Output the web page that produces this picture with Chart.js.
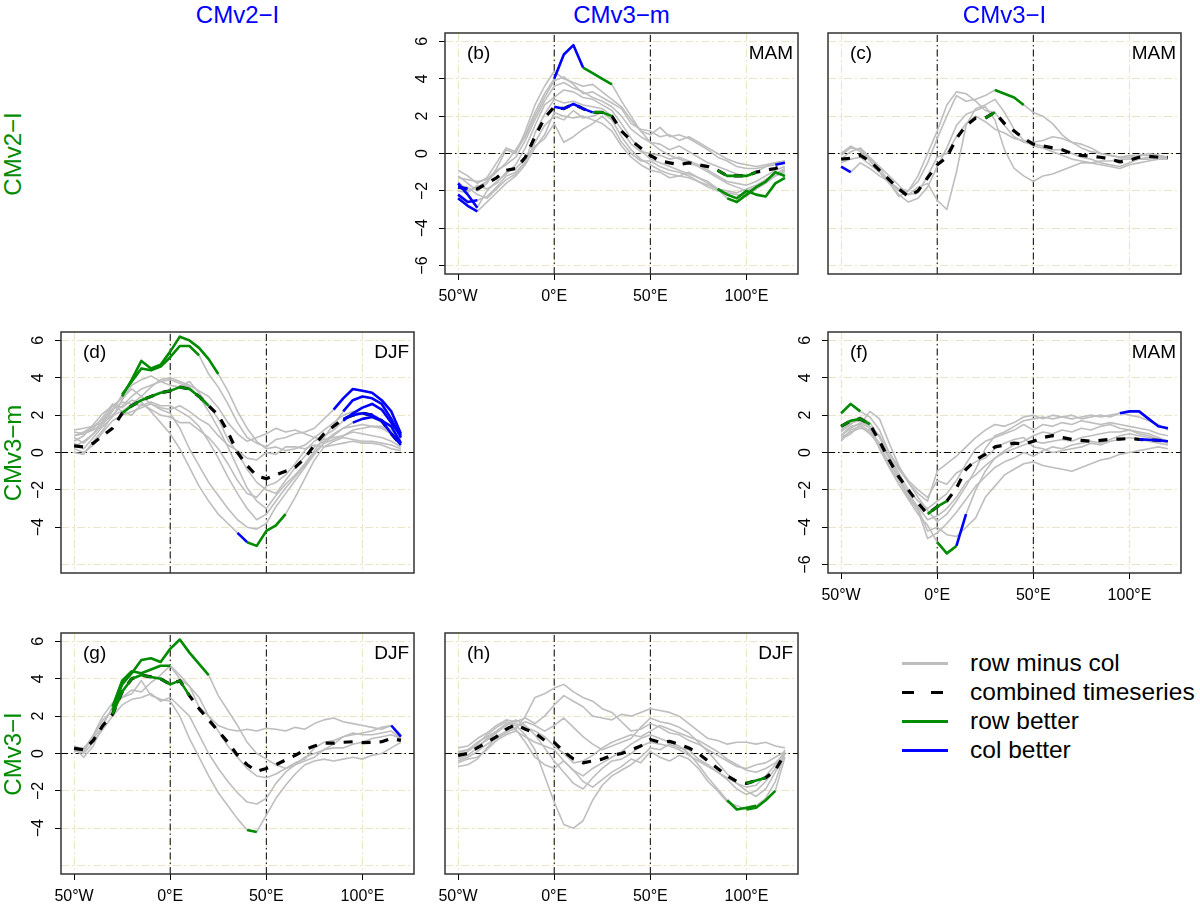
<!DOCTYPE html>
<html>
<head>
<meta charset="utf-8">
<script src="https://cdn.jsdelivr.net/npm/chart.js@4.4.1/dist/chart.umd.min.js"></script>
<style>
  body { margin: 0; width: 1200px; height: 906px; background: #fff; position: relative; overflow: hidden;
         font-family: 'Liberation Sans', Arial, Helvetica, sans-serif; }
  canvas { position: absolute; }
  .colhead { position: absolute; top: 1px; color: #0000ff; font-size: 24px; line-height: 28px; transform: translateX(-50%); white-space: nowrap; }
  .rowhead { position: absolute; left: 13px; color: #008b00; font-size: 24px; line-height: 28px; white-space: nowrap;
             transform: translate(-50%, -50%) rotate(-90deg); }
  .lgline { position: absolute; left: 902px; width: 46px; height: 3px; }
  .lgtext { position: absolute; left: 970px; font-size: 24.5px; line-height: 28px; color: #000; white-space: nowrap; }
</style>
</head>
<body>
<script>
// longitude of every sample (degrees, negative = west)
const lon = [-50, -45, -40, -35, -30, -25, -20, -15, -10, -5, 0, 5, 10, 15, 20, 25, 30, 35,
             40, 45, 50, 55, 60, 65, 70, 75, 80, 85, 90, 95, 100, 105, 110, 115, 120];
const xTicks = [-50, 0, 50, 100];
const xTickLabels = ['50°W', '0°E', '50°E', '100°E'];
const yTicks = [-6, -4, -2, 0, 2, 4, 6];
const refLon = [0, 50];
const refLat = [0];
const xLim = [-56.8, 126.8];
const yLim = [-6.45, 6.45];

const colHeads = ['CMv2\u2212I', 'CMv3\u2212m', 'CMv3\u2212I'];
const rowHeads = ['CMv2\u2212I', 'CMv3\u2212m', 'CMv3\u2212I'];

// (b) CMv2-I minus CMv3-m, MAM
const bCombined = [-1.8,-1.9,-1.9,-1.6,-1.3,-0.9,-0.8,-0.2,0.9,1.9, 2.5,2.4,2.65,2.4,2.2,2.2,2.0,1.2,0.7,0.3, -0.1,-0.4,-0.5,-0.6,-0.5,-0.6,-0.7,-0.9,-1.2,-1.2, -1.2,-1.0,-0.9,-0.8,-0.6];
const bGrey = [
  [-1.5,-2.0,-1.8,-1.5,-1.0,-0.5,0.2,1.0,2.2,3.2, 4.0,5.3,5.8,4.6,4.3,4.0,3.7,2.8,2.0,1.2, 0.6,0.2,-0.1,-0.3,-0.5,-0.7,-1.0,-1.3,-1.6,-1.8, -2.0,-1.8,-1.4,-1.2,-1.0],
  [-1.2,-1.6,-2.0,-1.6,-0.8,0.2,0.0,1.2,2.6,3.6, 4.4,4.0,3.8,3.6,3.7,3.3,2.9,2.5,1.8,1.2, 1.0,1.4,0.9,1.0,0.8,0.5,0.2,-0.2,-0.4,-0.7, -0.8,-0.8,-0.7,-0.5,-0.4],
  [-2.2,-2.6,-2.5,-2.3,-1.8,-1.2,-1.0,-0.5,0.6,1.5, 2.0,1.8,2.3,1.9,2.0,2.2,1.8,0.9,0.2,-0.3, -0.6,-0.9,-1.1,-1.2,-1.0,-1.3,-1.6,-1.9,-2.2,-2.4, -2.0,-2.2,-2.3,-1.6,-1.3],
  [-1.6,-2.2,-2.9,-2.0,-1.5,-1.1,-0.6,0.3,1.5,2.6, 3.0,3.4,3.3,3.0,2.9,2.6,2.3,1.6,0.8,0.2, -0.3,-0.5,-0.7,-0.9,-1.1,-1.3,-1.5,-1.9,-2.4,-2.6, -2.2,-1.8,-1.5,-1.0,-1.2],
  [-2.0,-2.1,-1.7,-1.9,-1.6,-1.0,-0.8,-0.3,0.4,0.8, 1.6,0.6,0.9,1.3,1.6,2.0,1.5,0.6,0.0,-0.4, -0.4,-0.7,-0.9,-1.0,-1.2,-1.5,-1.8,-2.0,-2.1,-2.2, -2.3,-1.9,-1.6,-1.2,-0.9],
  [-1.3,-1.4,-1.5,-1.4,-0.9,-0.6,-0.2,0.7,1.8,2.8, 3.6,3.8,3.5,3.3,3.0,2.8,2.5,2.0,1.3,0.9, 0.6,0.5,0.2,0.4,0.1,-0.2,-0.5,-0.7,-0.9,-1.1, -1.2,-1.0,-0.7,-0.6,-0.5],
  [-1.8,-1.8,-2.2,-2.4,-1.9,-1.4,-1.1,-0.4,1.1,2.1, 2.9,2.7,2.8,2.6,2.5,2.4,2.0,1.3,0.5,0.1, 0.0,-0.1,-0.3,-0.2,-0.4,-0.6,-0.9,-1.2,-1.5,-1.6, -1.7,-1.5,-1.2,-0.9,-0.7],
  [-2.4,-2.8,-3.1,-2.6,-2.1,-1.6,-1.2,-0.6,0.3,1.0, 2.2,2.0,1.9,2.0,1.8,1.6,1.2,0.4,-0.2,-0.6, -0.9,-1.0,-1.3,-1.2,-1.3,-1.5,-1.7,-1.9,-2.0,-2.1, -1.9,-1.7,-1.4,-1.1,-0.8],
  [-0.9,-1.2,-1.6,-1.3,-0.5,0.3,0.1,0.9,2.0,3.0, 3.9,4.1,3.7,3.2,3.3,3.0,2.7,2.4,1.6,1.3, 1.2,0.9,1.0,0.7,0.9,0.6,0.3,0.0,-0.3,-0.5, -0.6,-0.7,-0.6,-0.5,-0.4]
];
// [series ('c' = combined, else grey index), from lon, to lon]
const bRowBetter = [[0, 15, 30], ['c', 20, 30], [2, 85, 120], [3, 90, 120], ['c', 85, 105]];
const bColBetter = [[0, 0, 15], ['c', 0, 20], [2, -50, -40], [3, -50, -40], [7, -50, -40], ['c', -50, -45], [5, 115, 120]];

// (c) CMv2-I minus CMv3-I, MAM
const cCombined = [-0.3,-0.25,-0.1,-0.4,-0.9,-1.4,-1.9,-2.3,-2.0,-1.3, -0.6,-0.2,0.8,1.5,1.9,1.9,2.2,1.6,1.2,0.8, 0.5,0.4,0.3,0.2,0.0,-0.1,-0.15,-0.2,-0.3,-0.45, -0.35,-0.2,-0.15,-0.2,-0.2];
const cGrey = [
  [-0.1,0.3,0.2,-0.3,-0.8,-1.5,-1.9,-2.0,-1.5,-0.5, 0.8,2.0,3.1,2.8,2.9,3.1,3.4,3.2,3.0,2.6, 2.2,2.0,1.6,1.0,0.6,0.3,0.1,0.0,-0.1,-0.2, -0.2,-0.1,-0.1,-0.1,-0.2],
  [-0.5,-0.3,-0.2,-0.6,-1.0,-1.6,-2.2,-2.6,-2.4,-1.8, -0.7,0.3,1.5,2.1,2.3,2.5,1.8,0.2,-0.8,-1.2, -1.5,-1.2,-1.1,-0.9,-0.7,-0.5,-0.5,-0.4,-0.4,-0.3, -0.3,-0.3,-0.3,-0.2,-0.2],
  [-0.7,-1.0,-0.5,-0.8,-1.2,-1.5,-2.0,-2.2,-1.8,-1.6, -2.5,-3.0,-1.0,1.5,2.4,2.6,2.9,2.2,1.3,0.7, 0.4,0.3,0.1,-0.1,-0.3,-0.4,-0.5,-0.6,-0.7,-0.8, -0.6,-0.5,-0.4,-0.3,-0.3],
  [0.0,0.4,0.1,-0.4,-1.0,-1.5,-2.3,-2.0,-1.2,0.0, 1.2,2.6,3.3,3.2,2.8,2.3,2.2,1.5,0.9,0.6, 0.5,0.4,0.2,0.2,0.0,-0.2,-0.3,-0.5,-0.6,-0.7, -0.5,-0.3,-0.2,-0.2,-0.3],
  [-0.3,0.1,0.3,-0.2,-0.7,-1.2,-1.7,-2.2,-2.1,-1.2, -0.2,0.0,0.9,1.6,2.0,1.7,1.3,1.1,0.8,0.7, 0.6,0.7,0.9,0.8,0.6,0.5,0.3,0.0,-0.1,-0.2, -0.1,-0.1,0.0,-0.1,-0.2]
];
const cRowBetter = [[0, 30, 45], ['c', 25, 30]];
const cColBetter = [[2, -50, -45]];

// (d) CMv3-m minus CMv2-I, DJF
const dCombined = [0.35,0.3,0.5,0.9,1.3,2.1,2.5,2.8,3.0,3.2, 3.3,3.5,3.4,3.0,2.5,2.0,1.1,0.0,-0.7,-1.25, -1.4,-1.2,-1.0,-0.8,-0.3,0.4,1.0,1.4,1.8,2.0, 2.1,2.0,1.7,1.0,0.4];
const dGrey = [
  [0.9,1.0,1.2,1.6,2.3,3.0,3.9,4.9,4.5,4.7, 5.4,6.2,6.0,5.6,5.0,4.2,3.3,2.2,1.3,0.6, 0.2,0.3,0.1,0.2,0.4,0.8,1.2,1.6,2.0,2.2, 2.1,1.9,1.6,1.2,0.6],
  [0.3,0.6,1.0,1.5,2.2,3.1,3.8,4.5,4.4,4.6, 5.1,5.7,5.7,5.2,4.2,3.5,2.6,1.6,0.8,0.5, 0.3,0.7,0.8,1.0,1.1,1.3,1.8,2.3,2.9,3.4, 3.3,3.2,2.8,2.2,1.0],
  [1.1,1.0,1.3,1.9,2.6,2.4,2.8,2.7,2.2,1.6, 1.0,0.2,-0.8,-1.8,-2.6,-3.3,-3.8,-4.3,-4.8,-5.0, -4.2,-3.9,-3.3,-2.4,-1.4,-0.4,0.3,0.6,0.8,0.7, 0.6,0.6,0.5,0.4,0.2],
  [0.8,0.5,1.0,1.7,2.5,2.9,3.4,3.0,2.6,2.3, 2.1,1.3,0.2,-0.7,-1.6,-2.3,-3.0,-3.6,-4.0,-4.1, -3.8,-2.9,-2.2,-1.5,-0.8,-0.1,0.5,0.9,1.3,1.4, 1.5,1.4,1.3,1.0,0.6],
  [0.0,-0.1,0.6,1.2,2.0,2.5,3.0,3.4,3.6,3.8, 3.9,3.7,3.5,3.0,2.2,1.3,0.3,-0.8,-1.9,-2.6, -3.0,-2.3,-1.7,-1.2,-0.6,0.1,0.8,1.5,2.2,2.8, 3.0,2.9,2.6,1.8,0.8],
  [1.2,1.3,1.4,1.8,2.3,2.7,2.6,2.5,2.7,2.5, 2.5,2.2,1.9,1.4,0.6,-0.3,-1.3,-2.2,-3.0,-3.6, -3.3,-2.6,-1.9,-1.3,-0.7,0.0,0.5,0.7,0.9,1.1, 1.0,0.9,0.8,0.6,0.3],
  [0.9,1.1,1.4,1.6,2.0,2.2,2.6,3.0,3.5,3.9, 4.0,3.8,3.6,3.3,3.0,2.4,1.6,1.0,0.6,0.8, 1.0,1.3,1.1,1.2,1.0,0.8,0.7,0.8,0.9,1.2, 1.3,1.4,1.4,1.1,0.7],
  [0.6,0.9,1.5,2.1,2.5,2.2,2.0,2.6,2.3,2.0, 1.9,1.6,1.6,1.2,0.8,0.2,-0.6,-1.5,-2.2,-2.4, -1.8,-1.6,-1.2,-0.6,0.1,0.6,0.9,1.2,1.7,2.1, 2.4,2.6,2.3,1.6,0.9],
  [0.2,0.0,0.4,1.1,1.7,2.0,2.2,2.4,2.6,2.4, 2.3,2.5,2.2,1.8,1.5,0.9,0.4,0.1,-0.3,-0.4, 0.0,-0.1,0.3,0.3,0.2,0.4,0.3,0.4,0.5,0.6, 0.5,0.5,0.4,0.2,0.1],
  [0.5,0.2,0.8,1.4,1.9,2.8,3.6,3.9,4.1,3.8, 3.6,3.5,3.8,3.2,2.5,1.8,0.7,0.0,-0.9,-1.6, -2.0,-2.2,-1.5,-0.8,-0.2,0.3,0.6,1.0,1.3,1.6, 1.8,1.9,1.7,1.4,0.5]
];
const dRowBetter = [[0, -25, 25], [1, -25, 15], ['c', -25, 20], [2, 40, 60]];
const dColBetter = [[2, 35, 40], [1, 85, 120], [4, 90, 120], [7, 90, 120], [9, 95, 120], ['c', 90, 120]];

// (f) CMv3-m minus CMv3-I, MAM
const fCombined = [1.4,1.7,1.8,1.5,0.6,-0.4,-1.3,-2.0,-2.7,-3.3, -2.9,-2.6,-1.9,-0.9,-0.4,-0.1,0.3,0.4,0.5,0.45, 0.6,0.8,0.9,0.8,0.7,0.65,0.6,0.65,0.7,0.72, 0.75,0.7,0.68,0.65,0.6];
const fGrey = [
  [2.1,2.6,2.2,1.9,1.2,0.0,-0.9,-1.6,-2.2,-2.6, -1.0,-0.6,-0.2,0.3,0.8,1.2,1.5,1.4,1.6,1.9, 2.0,1.8,2.0,1.9,1.8,1.9,2.0,1.9,2.0,2.1, 2.0,1.9,1.7,1.5,1.2],
  [0.9,1.3,1.6,1.3,0.2,-0.8,-1.7,-2.5,-3.3,-3.9, -4.8,-5.4,-5.0,-3.3,-2.0,-1.0,-0.3,0.0,0.2,0.4, 0.6,0.5,0.6,0.7,0.6,0.8,0.9,1.0,1.1,1.1, 1.2,1.1,1.0,0.8,0.6],
  [0.7,1.0,1.5,2.2,1.8,0.5,-0.7,-1.6,-2.4,-3.1, -3.7,-3.3,-2.6,-1.8,-0.9,0.2,0.9,1.1,1.4,1.7, 1.8,1.9,1.8,1.9,2.0,1.8,1.9,2.0,1.9,2.1, 2.2,2.2,1.8,1.4,1.3],
  [0.6,1.2,1.4,1.0,0.4,-0.7,-1.5,-2.3,-3.0,-4.2, -4.0,-4.4,-4.5,-4.0,-3.5,-2.4,-1.8,-1.2,-0.9,-0.6, -0.5,-0.7,-0.8,-0.9,-1.0,-0.8,-0.6,-0.4,-0.3,-0.1, 0.0,0.1,0.2,0.3,0.2],
  [1.1,1.5,1.9,1.6,0.8,-0.2,-1.1,-2.0,-2.6,-3.0, -2.6,-2.2,-1.5,-0.6,0.2,0.6,0.8,1.0,1.2,1.5, 1.2,1.5,1.4,1.6,1.5,1.7,1.6,1.5,1.6,1.5, 1.4,1.3,1.2,1.0,0.9],
  [0.8,1.1,1.3,1.2,0.5,-0.3,-1.3,-2.2,-2.9,-3.6, -3.4,-3.0,-2.4,-1.6,-1.2,-0.7,-0.3,0.1,0.4,0.6, 0.9,1.1,1.0,1.2,1.1,1.3,1.2,1.4,1.5,1.3, 1.2,1.0,0.9,0.7,0.5],
  [1.2,1.6,1.7,1.4,0.9,0.0,-0.8,-1.5,-2.0,-2.4, -1.5,-1.7,-1.1,-0.8,-0.5,-0.3,0.2,0.5,0.7,0.8, 0.3,0.2,0.0,0.1,0.2,0.3,0.5,0.4,0.6,0.7, 0.8,0.7,0.6,0.5,0.4],
  [0.9,1.4,1.5,1.1,0.3,-0.5,-1.4,-2.4,-3.1,-4.6, -4.3,-3.8,-3.2,-2.5,-1.8,-1.3,-0.8,-0.5,-0.3,0.0, -0.2,0.1,0.3,0.2,0.4,0.5,0.6,0.5,0.7,0.9, 1.0,0.9,0.8,0.7,0.6]
];
const fRowBetter = [[0, -50, -40], ['c', -50, -35], ['c', -5, 5], [1, 0, 10]];
const fColBetter = [[1, 10, 15], [2, 95, 120], ['c', 105, 120]];

// (g) CMv3-I minus CMv2-I, DJF
const gCombined = [0.27,0.2,0.7,1.5,2.1,3.3,4.0,4.2,4.1,4.0, 3.7,3.9,3.1,2.4,1.8,1.2,0.6,-0.1,-0.6,-0.95, -0.8,-0.6,-0.35,-0.1,0.2,0.4,0.55,0.55,0.6,0.63, 0.58,0.6,0.63,0.8,0.7];
const gGrey = [
  [0.3,-0.2,0.4,1.6,2.4,3.0,3.2,3.9,3.1,2.9, 2.8,2.0,0.8,-0.2,-1.2,-2.1,-2.8,-3.5,-4.1,-4.2, -3.3,-2.4,-1.7,-1.1,-0.6,-0.4,-0.3,-0.4,-0.3,-0.2, -0.3,-0.1,0.0,0.3,0.6],
  [0.2,0.0,0.6,1.3,2.0,2.6,2.9,3.0,3.2,2.8, 3.0,2.5,2.0,1.0,0.0,-0.8,-1.5,-2.1,-2.6,-2.7, -2.4,-1.6,-1.0,-0.6,-0.2,0.0,0.2,0.3,0.3,0.5, 0.6,0.8,0.9,1.0,0.8],
  [0.4,0.2,1.0,2.0,2.7,3.0,3.4,3.3,3.8,4.2, 4.7,4.2,3.6,2.5,2.0,1.5,1.3,1.2,1.3,1.2, 1.35,1.3,1.2,1.4,1.3,1.6,1.8,1.9,1.7,1.6, 1.5,1.4,1.3,1.5,1.0],
  [0.2,0.1,0.9,1.8,2.3,3.7,4.3,5.0,5.1,4.9, 5.6,6.1,5.4,4.8,4.2,3.1,2.3,1.5,0.6,0.0, -0.3,-0.6,-0.8,-0.6,-0.4,-0.2,0.2,0.5,0.9,1.0, 1.1,1.2,1.4,1.5,0.9],
  [0.1,0.3,0.8,1.5,2.5,3.9,4.4,4.3,4.5,4.7, 4.7,4.0,3.6,3.0,2.0,1.2,0.4,-0.2,-0.8,-1.2, -1.3,-1.1,-0.8,-0.5,-0.3,0.3,0.6,0.7,0.9,1.1, 1.0,1.0,1.1,1.2,0.8]
];
const gRowBetter = [[3, -30, 20], [4, -30, 0], ['c', -30, 10], [0, 40, 45]];
const gColBetter = [[3, 115, 120]];

// (h) CMv3-I minus CMv3-m, DJF
const hCombined = [-0.1,0.0,0.3,0.6,0.9,1.3,1.55,1.3,1.1,0.7, 0.6,0.1,-0.3,-0.5,-0.4,-0.3,-0.1,0.0,0.2,0.4, 0.75,0.6,0.65,0.5,0.3,0.0,-0.4,-0.8,-1.2,-1.5, -1.6,-1.45,-1.3,-0.9,0.0];
const hGrey = [
  [0.0,0.2,0.6,0.9,1.2,1.5,1.3,2.0,3.0,3.2, 3.5,3.7,3.3,3.0,2.8,2.4,2.2,1.7,1.2,1.3, 1.6,1.4,1.1,1.0,0.7,0.5,0.2,-0.1,-0.4,-0.7, -0.8,-0.6,-0.5,-0.2,0.1],
  [-0.3,-0.1,0.3,0.8,1.2,1.6,1.5,1.0,0.2,-1.2, -2.6,-3.8,-4.0,-3.6,-2.5,-1.7,-1.2,-0.9,-0.6,-0.2, 0.3,0.2,0.5,0.3,0.2,-0.3,-0.6,-1.0,-1.4,-1.9, -2.2,-2.0,-1.5,-0.8,0.2],
  [0.3,0.4,0.8,1.1,1.5,1.8,1.7,1.9,1.6,2.0, 2.6,3.1,2.8,2.5,2.0,1.9,1.8,2.1,2.0,2.2, 2.4,2.3,2.2,2.0,1.6,1.2,0.8,0.7,0.5,0.6, 0.6,0.5,0.6,0.4,0.3],
  [-0.5,-0.3,-0.2,0.2,0.7,1.0,1.2,0.9,0.6,0.4, 0.2,-0.4,-0.9,-1.2,-0.8,-0.5,-0.2,0.1,0.5,0.8, 1.0,0.8,0.6,0.4,0.0,-0.6,-1.3,-1.9,-2.5,-3.0, -2.9,-2.8,-2.4,-1.5,0.0],
  [-0.7,-0.6,-0.3,0.3,0.9,1.2,1.3,0.6,-0.2,-0.6, -0.8,-0.4,-0.9,-1.5,-1.8,-1.4,-1.0,-0.7,-0.3,-0.5, 0.1,-0.2,-0.4,-0.1,-0.3,-0.8,-1.5,-2.0,-2.6,-2.8, -3.0,-2.9,-2.5,-2.0,-0.2],
  [-0.2,0.1,0.5,1.0,1.4,1.7,1.6,1.4,1.2,0.9, 0.4,0.0,-0.5,-0.4,-0.1,0.3,0.6,0.8,1.0,0.9, 1.2,1.5,1.3,1.1,0.9,0.7,0.4,0.1,-0.3,-0.6, -0.9,-1.0,-0.8,-0.5,0.0],
  [0.1,0.2,0.4,0.7,1.1,1.5,1.8,1.5,1.0,0.3, -0.4,-1.0,-1.6,-1.9,-1.3,-0.8,-0.4,-0.3,0.0,0.4, 0.6,0.5,0.4,0.2,-0.1,-0.4,-0.7,-1.0,-1.3,-1.6, -1.8,-1.7,-1.2,-0.6,0.1],
  [-0.4,-0.2,0.1,0.5,0.8,1.1,1.4,1.7,1.5,1.2, 1.5,1.9,1.4,0.9,0.5,0.2,0.4,0.6,0.8,1.4, 1.9,1.7,1.6,1.4,1.1,0.6,0.1,-0.5,-1.1,-1.6, -2.0,-2.3,-1.9,-1.0,0.0]
];
const hRowBetter = [['c', 100, 110], [3, 90, 105], [4, 100, 115]];
const hColBetter = [];

// layout of the panel grid
const colLeft = [61, 445, 828];
const rowTop = [33, 332, 633];
const boxW = 353, boxH = 241;
const padL = 50, padT = 2, padR = 4, axH = 40;

const GREY = '#bebebe', GREEN = '#008b00', BLUE = '#0000ff';
const BEIGE = 'rgb(236,228,196)';
const FONT = "'Liberation Sans', Arial, Helvetica, sans-serif";

const panels = [
  { tag: '(b)', season: 'MAM', col: 1, row: 0, comb: bCombined, grey: bGrey, rowB: bRowBetter, colB: bColBetter, xLab: true, yLab: -6 },
  { tag: '(c)', season: 'MAM', col: 2, row: 0, comb: cCombined, grey: cGrey, rowB: cRowBetter, colB: cColBetter, xLab: false, yLab: null },
  { tag: '(d)', season: 'DJF', col: 0, row: 1, comb: dCombined, grey: dGrey, rowB: dRowBetter, colB: dColBetter, xLab: false, yLab: -4 },
  { tag: '(f)', season: 'MAM', col: 2, row: 1, comb: fCombined, grey: fGrey, rowB: fRowBetter, colB: fColBetter, xLab: true, yLab: -6 },
  { tag: '(g)', season: 'DJF', col: 0, row: 2, comb: gCombined, grey: gGrey, rowB: gRowBetter, colB: gColBetter, xLab: true, yLab: -4 },
  { tag: '(h)', season: 'DJF', col: 1, row: 2, comb: hCombined, grey: hGrey, rowB: hRowBetter, colB: hColBetter, xLab: true, yLab: null }
];

function pts(vals) {
  return lon.map((x, i) => ({ x: x, y: vals[i] }));
}

function part(vals, from, to) {
  return lon.map((x, i) => ({ x: x, y: (x >= from && x <= to) ? vals[i] : null }));
}

function refLine(data) {
  return { data: data, borderColor: '#000', borderWidth: 1, borderDash: [7, 3, 1.5, 3], order: 4 };
}

function minus(v) {
  return v < 0 ? '\u2212' + (-v) : String(v);
}

// keep every plot box the same size whatever its labels need
function noPad(s) {
  s.paddingTop = 0; s.paddingBottom = 0; s.paddingLeft = 0; s.paddingRight = 0;
}

// box round the plot area plus the panel letter and season
const framePlugin = {
  id: 'frame',
  afterDraw(chart, args, opts) {
    const a = chart.chartArea;
    const ctx = chart.ctx;
    ctx.save();
    ctx.strokeStyle = '#333';
    ctx.lineWidth = 1.5;
    ctx.strokeRect(a.left, a.top, a.right - a.left, a.bottom - a.top);
    ctx.fillStyle = '#000';
    ctx.font = '19px ' + FONT;
    ctx.textBaseline = 'middle';
    ctx.textAlign = 'left';
    ctx.fillText(opts.tag, a.left + 22, a.top + 21);
    ctx.textAlign = 'right';
    ctx.fillText(opts.season, a.right - 5, a.top + 21);
    ctx.restore();
  }
};

function makePanel(p) {
  const cv = document.createElement('canvas');
  cv.width = boxW + padL + padR;
  cv.height = boxH + padT + axH;
  cv.style.left = (colLeft[p.col] - padL) + 'px';
  cv.style.top = (rowTop[p.row] - padT) + 'px';
  document.body.appendChild(cv);

  const series = k => (k === 'c' ? p.comb : p.grey[k]);
  const datasets = [];
  refLon.forEach(v => datasets.push(refLine([{ x: v, y: yLim[0] }, { x: v, y: yLim[1] }])));
  refLat.forEach(v => datasets.push(refLine([{ x: xLim[0], y: v }, { x: xLim[1], y: v }])));
  p.grey.forEach(vals => datasets.push({ data: pts(vals), borderColor: GREY, borderWidth: 1.6, order: 3 }));
  datasets.push({ data: pts(p.comb), borderColor: '#000', borderWidth: 3.2, borderDash: [9, 9], order: 2 });
  p.rowB.forEach(h => datasets.push({ data: part(series(h[0]), h[1], h[2]), borderColor: GREEN, borderWidth: 2.6, order: 1 }));
  p.colB.forEach(h => datasets.push({ data: part(series(h[0]), h[1], h[2]), borderColor: BLUE, borderWidth: 2.6, order: 0 }));

  new Chart(cv, {
    type: 'line',
    data: { datasets: datasets },
    plugins: [framePlugin],
    options: {
      responsive: false,
      animation: false,
      events: [],
      layout: { padding: { top: padT, right: padR, left: 0, bottom: 0 } },
      elements: { point: { radius: 0 }, line: { tension: 0, borderCapStyle: 'butt', borderJoinStyle: 'round' } },
      plugins: {
        legend: { display: false },
        tooltip: { enabled: false },
        frame: { tag: p.tag, season: p.season }
      },
      scales: {
        x: {
          type: 'linear',
          min: xLim[0],
          max: xLim[1],
          afterBuildTicks: s => { s.ticks = xTicks.map(v => ({ value: v })); },
          afterFit: s => { s.height = axH; noPad(s); },
          ticks: {
            display: p.xLab,
            autoSkip: false,
            maxRotation: 0,
            padding: 7,
            color: '#000',
            font: { family: FONT, size: 16 },
            callback: v => xTickLabels[xTicks.indexOf(v)]
          },
          grid: { color: BEIGE, lineWidth: 1, tickLength: 6, tickWidth: 1, tickBorderDash: [],
                  tickColor: p.xLab ? '#000' : 'rgba(0,0,0,0)' },
          border: { display: false, dash: [8, 3, 2, 3] }
        },
        y: {
          type: 'linear',
          min: yLim[0],
          max: yLim[1],
          afterBuildTicks: s => { s.ticks = yTicks.map(v => ({ value: v })); },
          afterFit: s => { s.width = padL; noPad(s); },
          ticks: {
            display: p.yLab !== null,
            autoSkip: false,
            minRotation: 90,
            maxRotation: 90,
            crossAlign: 'center',
            padding: 7,
            color: '#000',
            font: { family: FONT, size: 16 },
            callback: v => (p.yLab !== null && v >= p.yLab) ? minus(v) : ''
          },
          grid: { color: BEIGE, lineWidth: 1, tickLength: 6, tickWidth: 1, tickBorderDash: [],
                  tickColor: c => (p.yLab !== null && c.tick && c.tick.value >= p.yLab) ? '#000' : 'rgba(0,0,0,0)' },
          border: { display: false, dash: [8, 3, 2, 3] }
        }
      }
    }
  });
}

panels.forEach(makePanel);

// column and row headings
colHeads.forEach((t, i) => {
  const d = document.createElement('div');
  d.className = 'colhead';
  d.textContent = t;
  d.style.left = (colLeft[i] + boxW / 2) + 'px';
  document.body.appendChild(d);
});
rowHeads.forEach((t, i) => {
  const d = document.createElement('div');
  d.className = 'rowhead';
  d.textContent = t;
  d.style.top = (rowTop[i] + boxH / 2) + 'px';
  document.body.appendChild(d);
});

// legend
const legendItems = [
  { text: 'row minus col', style: 'background:' + GREY + ';height:3px' },
  { text: 'combined timeseries', style: 'background:repeating-linear-gradient(to right,#000 0 12px,transparent 12px 29px);height:3px' },
  { text: 'row better', style: 'background:' + GREEN + ';height:3px' },
  { text: 'col better', style: 'background:' + BLUE + ';height:3px' }
];
const legendY = [663, 692, 721, 750];
legendItems.forEach((it, i) => {
  const l = document.createElement('div');
  l.className = 'lgline';
  l.style.cssText = it.style + ';top:' + (legendY[i] - 1) + 'px';
  document.body.appendChild(l);
  const t = document.createElement('div');
  t.className = 'lgtext';
  t.textContent = it.text;
  t.style.top = (legendY[i] - 14) + 'px';
  document.body.appendChild(t);
});
</script>
</body>
</html>
